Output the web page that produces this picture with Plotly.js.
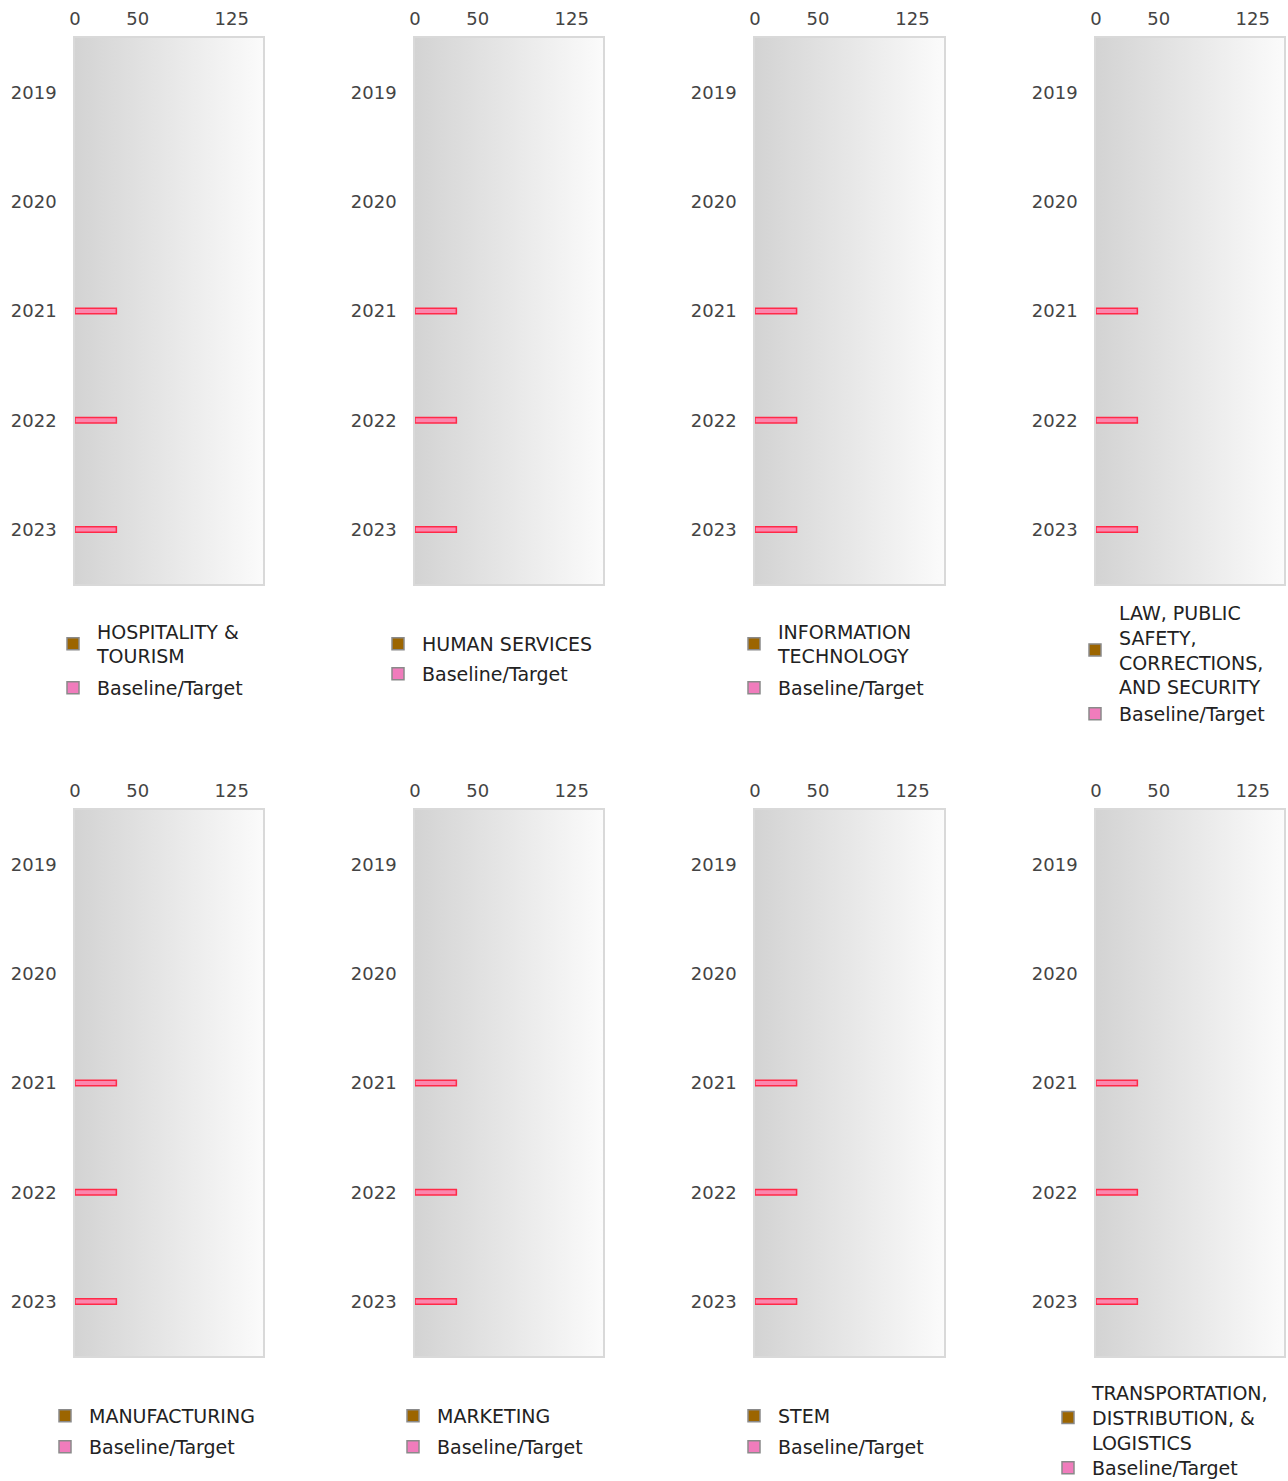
<!DOCTYPE html>
<html>
<head>
<meta charset="utf-8">
<script src="https://cdn.plot.ly/plotly-3.0.1.min.js"></script>
<style>html,body{margin:0;padding:0;background:#fff;}#chart{width:1288px;height:1481px;}</style>
</head>
<body>
<div id="chart"></div>
<script>
const years = ['2019', '2020', '2021', '2022', '2023'];
const clusters = [
  'HOSPITALITY &<br>TOURISM',
  'HUMAN SERVICES',
  'INFORMATION<br>TECHNOLOGY',
  'LAW, PUBLIC<br>SAFETY,<br>CORRECTIONS,<br>AND SECURITY',
  'MANUFACTURING',
  'MARKETING',
  'STEM',
  'TRANSPORTATION,<br>DISTRIBUTION, &<br>LOGISTICS'
];
// actual values per cluster (no data reported)
const actualHospitality = [null, null, null, null, null];
const actualHumanServices = [null, null, null, null, null];
const actualIT = [null, null, null, null, null];
const actualLaw = [null, null, null, null, null];
const actualManufacturing = [null, null, null, null, null];
const actualMarketing = [null, null, null, null, null];
const actualSTEM = [null, null, null, null, null];
const actualTransportation = [null, null, null, null, null];
// baseline / target values per cluster
const baselineHospitality = [null, null, 33, 33, 33];
const baselineHumanServices = [null, null, 33, 33, 33];
const baselineIT = [null, null, 33, 33, 33];
const baselineLaw = [null, null, 33, 33, 33];
const baselineManufacturing = [null, null, 33, 33, 33];
const baselineMarketing = [null, null, 33, 33, 33];
const baselineSTEM = [null, null, 33, 33, 33];
const baselineTransportation = [null, null, 33, 33, 33];
const xTickVals = [0, 50, 125];
const xTickText = ['0', '50', '125'];

const actualSeries = [actualHospitality, actualHumanServices, actualIT, actualLaw,
  actualManufacturing, actualMarketing, actualSTEM, actualTransportation];
const baselineSeries = [baselineHospitality, baselineHumanServices, baselineIT, baselineLaw,
  baselineManufacturing, baselineMarketing, baselineSTEM, baselineTransportation];

const W = 1288, H = 1481;
const colsPx = [[75, 263], [415, 603], [755, 944], [1096, 1284]];
const rowsPx = [[38, 584], [810, 1356]];
// legend marker positions [x, brownY, pinkY]
const legendPos = [
  [73, 644, 688], [398, 644, 674], [754, 644, 688], [1095, 650, 714],
  [65, 1416, 1447], [413, 1416, 1447], [754, 1416, 1447], [1068, 1418, 1468]
];

const FONT = 'DejaVu Sans';
const gradSvg = '<svg xmlns="http://www.w3.org/2000/svg" width="100" height="100" viewBox="0 0 100 100" preserveAspectRatio="none">' +
  '<defs><linearGradient id="g" x1="0" y1="0" x2="1" y2="0">' +
  '<stop offset="0" stop-color="#d3d3d3"/><stop offset="1" stop-color="#fbfbfb"/></linearGradient></defs>' +
  '<rect x="0" y="0" width="100" height="100" fill="url(#g)"/></svg>';
const gradUrl = 'data:image/svg+xml;charset=utf-8,' + encodeURIComponent(gradSvg);

const data = [];
const layout = {
  width: W, height: H,
  margin: {l: 0, r: 0, t: 0, b: 0, autoexpand: false},
  paper_bgcolor: '#ffffff',
  plot_bgcolor: 'rgba(0,0,0,0)',
  barmode: 'overlay',
  showlegend: true,
  font: {family: FONT, size: 18, color: '#444'},
  images: []
};

for (let i = 0; i < 8; i++) {
  const n = i + 1;
  const xa = n === 1 ? 'x' : 'x' + n;
  const ya = n === 1 ? 'y' : 'y' + n;
  const col = colsPx[i % 4], row = rowsPx[Math.floor(i / 4)];
  const lgA = (2 * i + 1) === 1 ? 'legend' : 'legend' + (2 * i + 1);
  const lgB = 'legend' + (2 * i + 2);

  data.push({
    type: 'bar', orientation: 'h', name: clusters[i],
    y: years, x: actualSeries[i], xaxis: xa, yaxis: ya, legend: lgA,
    width: 0.05,
    marker: {color: '#9c6500', line: {color: '#8a8a8a', width: 1.5}},
    hoverinfo: 'x+name'
  });
  const vals = baselineSeries[i];
  data.push({
    type: 'bar', orientation: 'h', name: 'Baseline/Target',
    y: years, x: vals, xaxis: xa, yaxis: ya, legend: lgB,
    width: 0.05,
    marker: {
      color: vals.map(v => v === null ? '#f07cbc' : '#fb86ad'),
      line: {color: vals.map(v => v === null ? '#8a8a8a' : '#ff2a48'), width: 1.5}
    },
    hoverinfo: 'x+name'
  });

  const xKey = n === 1 ? 'xaxis' : 'xaxis' + n;
  const yKey = n === 1 ? 'yaxis' : 'yaxis' + n;
  layout[xKey] = {
    domain: [col[0] / W, col[1] / W], anchor: ya, side: 'top',
    range: [0, 150], tickvals: xTickVals, ticktext: xTickText,
    showgrid: false, zeroline: false, ticks: '',
    ticklabelstandoff: 4,
    showline: true, mirror: true, linecolor: '#d9d9d9', linewidth: 1.5,
    tickfont: {family: FONT, size: 18, color: '#444'},
    fixedrange: true
  };
  layout[yKey] = {
    domain: [1 - row[1] / H, 1 - row[0] / H], anchor: xa,
    type: 'category', categoryorder: 'array', categoryarray: years,
    range: [4.5, -0.5],
    showgrid: false, zeroline: false, ticks: '',
    ticklabelstandoff: 13,
    showline: true, mirror: true, linecolor: '#d9d9d9', linewidth: 1.5,
    tickfont: {family: FONT, size: 18, color: '#444'},
    fixedrange: true
  };
  layout.images.push({
    source: gradUrl, xref: xa + ' domain', yref: ya + ' domain',
    x: 0, y: 1, sizex: 1, sizey: 1, xanchor: 'left', yanchor: 'top',
    sizing: 'stretch', layer: 'below'
  });

  const lp = legendPos[i];
  const legBase = {
    xanchor: 'left', yanchor: 'middle', bgcolor: 'rgba(0,0,0,0)', borderwidth: 0,
    font: {family: FONT, size: 19, color: '#222'}, valign: 'middle', itemwidth: 38
  };
  layout[lgA] = Object.assign({}, legBase, {x: (lp[0] - 24) / W, y: 1 - lp[1] / H});
  layout[lgB] = Object.assign({}, legBase, {x: (lp[0] - 24) / W, y: 1 - lp[2] / H});
}

Plotly.newPlot('chart', data, layout, {displayModeBar: false, responsive: false});
</script>
</body>
</html>
